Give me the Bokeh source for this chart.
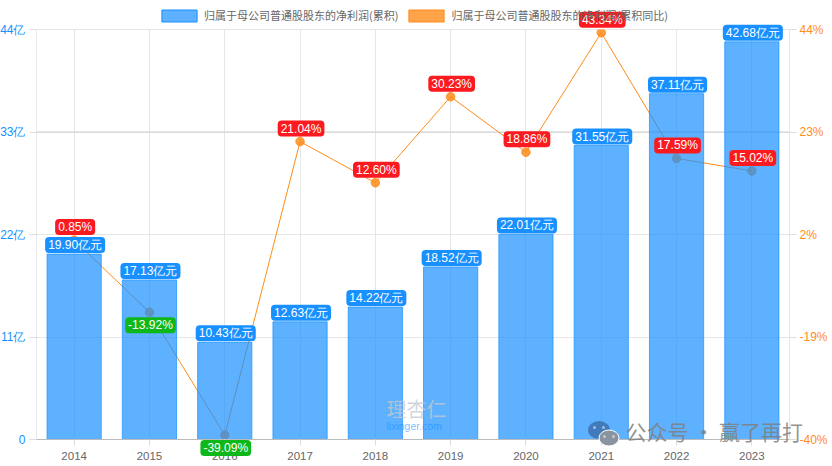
from bokeh.embed import file_html
from bokeh.resources import INLINE
from bokeh.plotting import figure
from bokeh.models import (ColumnDataSource, Label, Legend, LegendItem, LinearAxis,
                          Range1d, FixedTicker, Span)

years = ["2014", "2015", "2016", "2017", "2018", "2019", "2020", "2021", "2022", "2023"]
profit = [19.90, 17.13, 10.43, 12.63, 14.22, 18.52, 22.01, 31.55, 37.11, 42.68]
growth = [0.85, -13.92, -39.09, 21.04, 12.60, 30.23, 18.86, 43.34, 17.59, 15.02]
left_ticks = [0, 11, 22, 33, 44]
left_labels = ["0", "11亿", "22亿", "33亿", "44亿"]
right_ticks = [-40, -19, 2, 23, 44]
right_labels = ["-40%", "-19%", "2%", "23%", "44%"]
series_names = ["归属于母公司普通股股东的净利润(累积)", "归属于母公司普通股股东的净利润(累积同比)"]

BLUE = "#1890ff"
ORANGE = "#ff8c1a"
RED = "#fb1a1f"
GREEN = "#0fb81a"
FONT = "Liberation Sans"
W, H = 832, 466
L, R, T, B = 37, 42, 29, 27      # room round the plot frame
FW, FH = W - L - R, H - T - B
PLACE_OVER = {"position": "absolute", "left": "0px", "top": "0px"}
PLACE_PLOT = {"position": "absolute", "left": "-3px", "top": "-1px"}

xs = list(range(len(years)))
X0, X1 = -0.5, 9.5
Y0, Y1 = 0, 44
P0, P1 = -40, 44

p = figure(width=W, height=H, x_range=Range1d(X0, X1), y_range=Range1d(Y0, Y1),
           frame_width=FW, frame_height=FH,
           output_backend="svg", toolbar_location=None,
           min_border_left=L, min_border_right=R, min_border_top=T + 1, min_border_bottom=B - 1)
p.styles = PLACE_PLOT
p.extra_y_ranges = {"pct": Range1d(P0, P1)}
p.background_fill_color = None
p.border_fill_color = "white"
p.outline_line_color = "#e6e6e6"

p.xgrid.grid_line_color = "#e6e6e6"
p.xgrid.ticker = FixedTicker(ticks=xs)
p.ygrid.grid_line_color = "#e6e6e6"
p.ygrid.ticker = FixedTicker(ticks=left_ticks)
p.add_layout(Span(location=33, dimension="width", line_color="#cfcfcf", line_width=1, level="underlay"))

ax = p.yaxis[0]
ax.ticker = FixedTicker(ticks=left_ticks)
ax.major_label_overrides = dict(zip(left_ticks, left_labels))
ax.major_label_text_color = BLUE
ax.major_label_text_font = FONT
ax.major_label_text_font_size = "12px"
ax.axis_line_color = None
ax.major_tick_line_color = "#dddddd"
ax.major_tick_out = 7
ax.major_tick_in = 0
ax.minor_tick_line_color = None
ax.major_label_standoff = 4

ar = LinearAxis(y_range_name="pct", ticker=FixedTicker(ticks=right_ticks))
ar.major_label_overrides = dict(zip(right_ticks, right_labels))
ar.major_label_text_color = ORANGE
ar.major_label_text_font = FONT
ar.major_label_text_font_size = "12px"
ar.axis_line_color = None
ar.major_tick_line_color = "#dddddd"
ar.major_tick_out = 7
ar.major_tick_in = 0
ar.minor_tick_line_color = None
ar.major_label_standoff = 3
p.add_layout(ar, "right")

xa = p.xaxis[0]
xa.ticker = FixedTicker(ticks=xs)
xa.major_label_overrides = dict(zip(xs, years))
xa.axis_line_color = "#bbbbbb"
xa.major_tick_line_color = "#dddddd"
xa.major_tick_out = 6
xa.major_tick_in = 0
xa.minor_tick_line_color = None
xa.major_label_text_color = "#666666"
xa.major_label_text_font = FONT
xa.major_label_text_font_size = "11.5px"
xa.major_label_standoff = 6

src = ColumnDataSource(dict(x=xs, profit=profit, growth=growth))

p.line("x", "growth", source=src, y_range_name="pct", line_color=ORANGE, line_width=1)
p.scatter("x", "growth", source=src, y_range_name="pct", size=8.5, fill_color=ORANGE,
          fill_alpha=0.85, line_color=ORANGE, line_alpha=0.85)
p.vbar(x="x", top="profit", source=src, width=0.72, fill_color=BLUE, fill_alpha=0.7,
       line_color=BLUE, line_alpha=0.7)


# Transparent overlay the size of the page, on the same scales extended to the page's edges,
# so that the value tags, the legend and the watermarks may pass the plot frame.
def wider(a, b, low, high, size):
    per_px = (b - a) / size
    return a - low * per_px, b + high * per_px


o = figure(width=W, height=H, output_backend="svg", toolbar_location=None,
           x_range=Range1d(*wider(X0, X1, L, R, FW)), y_range=Range1d(*wider(Y0, Y1, B, T, FH)),
           x_axis_location=None, y_axis_location=None,
           min_border=0, min_border_left=0, min_border_right=0, min_border_top=0, min_border_bottom=0)
o.styles = PLACE_OVER
o.extra_y_ranges = {"pct": Range1d(*wider(P0, P1, B, T, FH)), "px": Range1d(H, 0)}
o.extra_x_ranges = {"px": Range1d(0, W)}
o.background_fill_color = None
o.border_fill_color = None
o.outline_line_color = None
o.grid.visible = False

nan = float("nan")
sw1 = o.vbar(x=[0], top=[nan], width=0.72, fill_color=BLUE, fill_alpha=0.7, line_color=BLUE)
sw2 = o.vbar(x=[0], top=[nan], width=0.72, fill_color=ORANGE, fill_alpha=0.8, line_color=ORANGE)
legend = Legend(items=[LegendItem(label=series_names[0], renderers=[sw1]),
                       LegendItem(label=series_names[1], renderers=[sw2])],
                orientation="horizontal", location=(157, H - 23), glyph_width=44, glyph_height=15,
                label_text_font="Noto Sans CJK SC", label_text_font_size="11px",
                label_text_color="#666666", background_fill_alpha=0, border_line_color=None,
                padding=0, margin=0, spacing=6, label_standoff=3)
o.add_layout(legend, "center")

common = dict(text_color="white", text_font=FONT, text_font_size="12px", text_align="center",
              text_baseline="middle", level="overlay", border_radius=4, padding=(3, 1))
for i, v in zip(xs, profit):
    o.add_layout(Label(x=i, y=v, text=f"{v:.2f}亿元", y_offset=9,
                       background_fill_color=BLUE, **common))
for i, v in zip(xs, growth):
    o.add_layout(Label(x=i, y=v, y_range_name="pct", text=f"{v:.2f}%",
                       y_offset=13 if v >= 0 else -13,
                       background_fill_color=RED if v >= 0 else GREEN, **common))

# Watermarks, in page pixels
px = dict(x_range_name="px", y_range_name="px")
o.ellipse(x=[598.5], y=[429.5], width=[22], height=[18], fill_color="#3f78b8", fill_alpha=0.95,
          line_color=None, **px)
o.ellipse(x=[594, 603], y=[427, 427], width=[3, 3], height=[3, 3], fill_color="#9fc0e0",
          line_color=None, **px)
o.ellipse(x=[608.5], y=[437.5], width=[20], height=[16], fill_color="#8a94a0", fill_alpha=1,
          line_color="white", line_width=1, **px)
o.ellipse(x=[604, 613], y=[436, 436], width=[3, 3], height=[3, 3], fill_color="#c5cad0",
          line_color=None, **px)
o.add_layout(Label(x=625, y=430, text="公众号 · 赢了再打", text_font="Noto Sans CJK SC",
                   text_font_size="21px", text_color="#808080", text_alpha=0.85,
                   text_baseline="middle", level="overlay", **px))
o.add_layout(Label(x=386, y=408, text="理杏仁", text_font="Noto Sans CJK SC",
                   text_font_size="20px", text_color="#c4c9d0", text_alpha=0.75,
                   text_baseline="middle", level="overlay", **px))
o.add_layout(Label(x=386, y=425, text="lixinger.com", text_font=FONT, text_font_size="10.5px",
                   text_color=BLUE, text_alpha=0.6, text_baseline="middle", level="overlay", **px))

open("out.html", "w").write(file_html([p, o], INLINE))
